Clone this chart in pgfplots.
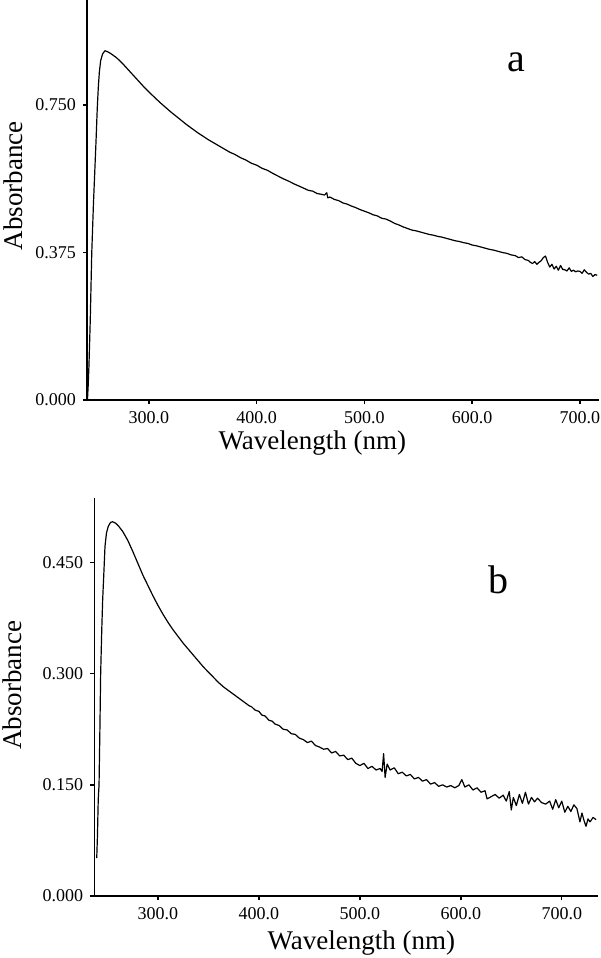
\documentclass[border=0pt]{standalone}
\usepackage{pgfplots}
\pgfplotsset{compat=1.18}
\usepackage{fontspec}
\setmainfont{Liberation Serif}

\pgfplotstableread{
x y
242.9 0.000
243.5 0.030
244.3 0.086
245.5 0.200
246.9 0.373
248.5 0.500
250.0 0.600
250.9 0.660
252.0 0.740
253.0 0.795
254.0 0.835
255.2 0.863
257.0 0.880
259.2 0.888
262.0 0.885
265 0.880
270 0.870
275 0.857
280 0.842
285 0.827
290 0.812
295 0.797
300 0.783
305 0.770
310 0.757
315 0.745
320 0.733
325 0.722
330 0.711
335 0.700
340 0.690
345 0.680
350 0.671
355 0.662
360 0.654
365 0.646
370 0.638
375 0.630
380 0.624
385 0.616
390 0.610
395 0.602
400 0.597
405 0.589
410 0.584
415 0.576
420 0.569
425 0.562
430 0.556
435 0.549
440 0.543
444 0.538
448 0.533
452 0.531
456 0.525
460 0.523
463 0.521
465 0.527
466 0.514
468 0.516
472 0.510
476 0.507
480 0.501
484 0.498
488 0.493
492 0.489
496 0.484
500 0.480
504 0.476
508 0.471
512 0.468
516 0.462
520 0.460
524 0.455
528 0.449
532 0.445
536 0.440
540 0.436
544 0.432
548 0.430
552 0.427
556 0.424
560 0.421
564 0.419
568 0.416
572 0.414
576 0.411
580 0.408
584 0.405
588 0.403
592 0.400
596 0.398
600 0.394
604 0.392
608 0.389
612 0.386
616 0.383
620 0.381
624 0.378
628 0.375
632 0.373
636 0.369
640 0.367
643 0.362
646 0.364
649 0.357
652 0.355
654 0.350
656 0.347
658 0.352
660 0.345
662 0.350
664 0.354
666 0.362
668 0.366
670 0.350
672 0.338
674 0.345
676 0.333
678 0.340
680 0.330
682 0.342
684 0.332
686 0.331
688 0.328
690 0.336
692 0.327
694 0.330
696 0.326
698 0.328
700 0.327
702 0.322
704 0.331
706 0.325
708 0.320
710 0.322
712 0.314
714 0.319
716 0.317
}\dataA

\pgfplotstableread{
x y
239.3 0.051
240.0 0.080
240.8 0.130
241.6 0.150
242.5 0.230
243.2 0.300
244.3 0.360
245.2 0.400
246.5 0.440
247.5 0.472
249.0 0.490
250.8 0.499
253.0 0.504
255.0 0.505
258.0 0.503
261.0 0.499
265 0.492
270 0.480
275 0.465
280 0.449
285 0.433
290 0.419
295 0.405
300 0.392
305 0.380
310 0.369
315 0.359
320 0.350
325 0.341
330 0.333
335 0.325
340 0.317
345 0.309
350 0.302
355 0.295
360 0.288
365 0.282
370 0.277
375 0.272
380 0.267
385 0.262
390 0.257
393 0.255
396 0.251
400 0.249
403 0.244
406 0.243
410 0.237
413 0.236
416 0.232
420 0.230
424 0.225
428 0.224
432 0.219
436 0.218
440 0.213
444 0.211
448 0.207
452 0.209
456 0.203
460 0.201
464 0.198
468 0.199
472 0.193
476 0.195
480 0.189
484 0.190
488 0.184
492 0.186
496 0.179
500 0.176
504 0.179
508 0.172
512 0.175
516 0.170
520 0.172
522 0.168
523.5 0.192
525 0.160
527 0.178
530 0.170
534 0.173
538 0.165
542 0.167
546 0.162
550 0.164
554 0.158
558 0.160
562 0.155
566 0.157
570 0.151
574 0.153
578 0.148
582 0.150
586 0.147
590 0.149
594 0.146
598 0.149
601 0.157
604 0.147
608 0.150
612 0.143
616 0.146
620 0.140
624 0.142
626 0.131
630 0.134
634 0.137
638 0.132
642 0.136
645 0.128
648 0.141
650 0.116
652 0.133
655 0.122
658 0.137
661 0.125
664 0.140
667 0.124
670 0.133
673 0.127
676 0.132
680 0.126
684 0.124
688 0.128
691 0.117
694 0.130
697 0.119
700 0.128
703 0.113
706 0.121
709 0.114
712 0.123
715 0.118
718 0.100
720 0.112
722 0.102
724 0.094
726 0.104
728 0.100
731 0.106
734 0.103
}\dataB

\begin{document}
\begin{tikzpicture}
\path[use as bounding box] (0pt,0pt) rectangle (300pt,479pt);
\pgfplotsset{
  every axis/.append style={
    scale only axis,
    anchor=south west,
    axis x line*=bottom,
    axis y line*=left,
    axis line style={line width=0.7pt},
    tick align=outside,
    major tick length=2pt,
    every tick/.style={line width=0.7pt, black},
    ticklabel style={font=\fontsize{9}{10}\selectfont},
    label style={font=\fontsize{13.5}{16}\selectfont},
    xtick={300,400,500,600,700},
    xticklabels={300.0,400.0,500.0,600.0,700.0},
    xlabel={Wavelength (nm)},
    ylabel={Absorbance},
  }
}
\begin{axis}[
  at={(43.5pt,279pt)},
  width=256pt, height=200pt,
  xmin=242.5, xmax=717.7,
  ymin=0, ymax=1.017,
  ytick={0,0.375,0.75},
  yticklabels={0.000,0.375,0.750},
  xlabel style={at={(axis description cs:0.44,-0.1075)}, anchor=center},
  ylabel style={at={(axis description cs:-0.1445,0.535)}, anchor=center},
]
\addplot[black, line width=0.6pt, line join=round] table[x=x,y=y] {\dataA};
\node[font=\fontsize{20}{24}\selectfont, anchor=base] at (rel axis cs:0.839,0.82) {a};
\end{axis}
\begin{axis}[
  at={(47.15pt,31pt)},
  width=251.9pt, height=199pt,
  xmin=236.9, xmax=736,
  ymin=0, ymax=0.537,
  ytick={0,0.15,0.3,0.45},
  yticklabels={0.000,0.150,0.300,0.450},
  xlabel style={at={(axis description cs:0.53,-0.118)}, anchor=center},
  ylabel style={at={(axis description cs:-0.162,0.53)}, anchor=center},
]
\addplot[black, line width=0.6pt, line join=round] table[x=x,y=y] {\dataB};
\node[font=\fontsize{20}{24}\selectfont, anchor=base] at (rel axis cs:0.803,0.761) {b};
\end{axis}
\end{tikzpicture}
\end{document}
